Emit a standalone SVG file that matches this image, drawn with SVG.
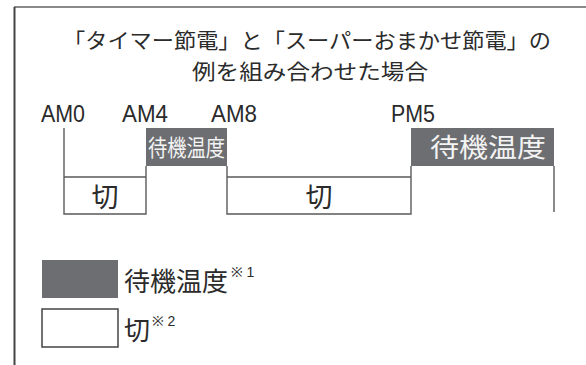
<svg xmlns="http://www.w3.org/2000/svg" width="586" height="365" viewBox="0 0 586 365">
<style>
.t{font-family:"Noto Sans CJK JP","Noto Sans",sans-serif;fill:#2b2b2b}
.l{font-family:"Liberation Sans","Noto Sans",sans-serif;fill:#2b2b2b;font-size:23px}
.s{font-family:"Liberation Sans","Noto Sans",sans-serif;fill:#2b2b2b;font-size:14px}
.ln{stroke:#5a5a5a;stroke-width:1.4;fill:none}
.g{fill:#6d6e71}
.wt{fill:#f4f4f4}
</style>
<rect width="586" height="365" fill="#fff"/>
<g id="frame">
<line x1="14" y1="7" x2="586" y2="7" stroke="#8a8a8a" stroke-width="2"/>
<line x1="14.5" y1="7" x2="14.5" y2="365" stroke="#444" stroke-width="2"/>
</g>
<g id="title">
<text class="t" x="307" y="48" font-size="21" text-anchor="middle" textLength="488" lengthAdjust="spacingAndGlyphs">「タイマー節電」と「スーパーおまかせ節電」の</text>
<text class="t" x="310" y="79" font-size="21" text-anchor="middle" textLength="236" lengthAdjust="spacingAndGlyphs">例を組み合わせた場合</text>
</g>
<g id="labels">
<text class="l" x="41" y="122" textLength="44" lengthAdjust="spacingAndGlyphs">AM0</text>
<text class="l" x="122" y="122" textLength="46" lengthAdjust="spacingAndGlyphs">AM4</text>
<text class="l" x="211" y="122" textLength="46" lengthAdjust="spacingAndGlyphs">AM8</text>
<text class="l" x="391" y="122" textLength="44" lengthAdjust="spacingAndGlyphs">PM5</text>
</g>
<g id="connectors">
<path class="ln" d="M64 128V214H146V166M64 177H146M227 166V214H411V166M227 177H411M554 166V212"/>
</g>
<g id="standby1">
<rect class="g" x="146" y="128" width="81" height="38"/>
<text class="t wt" x="186.5" y="156" font-size="23" text-anchor="middle" textLength="77" lengthAdjust="spacingAndGlyphs">待機温度</text>
</g>
<g id="off1">
<text class="t" x="105" y="207" font-size="27" text-anchor="middle">切</text>
</g>
<g id="off2">
<text class="t" x="319" y="207" font-size="27" text-anchor="middle">切</text>
</g>
<g id="standby2">
<rect class="g" x="411" y="128" width="143" height="38"/>
<text class="t wt" x="488" y="157" font-size="26" text-anchor="middle" textLength="116" lengthAdjust="spacingAndGlyphs">待機温度</text>
</g>
<g id="legend-standby">
<rect class="g" x="42" y="260" width="76" height="38"/>
<text class="t" x="124" y="291" font-size="26">待機温度</text>
<text class="s" x="231" y="277">※ 1</text>
</g>
<g id="legend-off">
<rect x="42" y="309" width="76" height="38" fill="#fff" stroke="#444" stroke-width="1.5"/>
<text class="t" x="124" y="340" font-size="26">切</text>
<text class="s" x="152" y="326">※ 2</text>
</g>
</svg>
